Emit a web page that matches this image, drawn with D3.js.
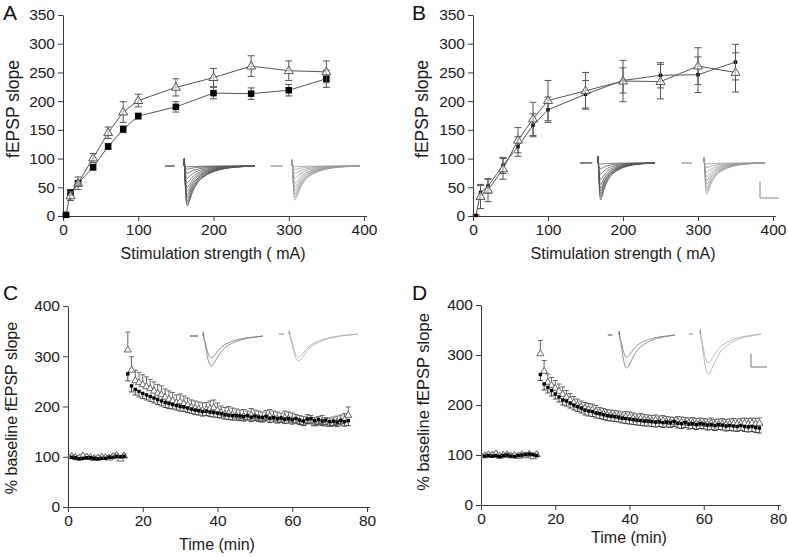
<!DOCTYPE html>
<html><head><meta charset="utf-8">
<script src="https://cdn.jsdelivr.net/npm/d3@7"></script>
<style>
html,body{margin:0;padding:0;background:#fff;}
svg{display:block;font-family:"Liberation Sans",Arial,sans-serif;}
</style></head>
<body>
<svg id="chart" width="788" height="557"></svg>
<script>
// ---------- Panel A/B data (input–output) ----------
const ioTicksY = [0,50,100,150,200,250,300,350];
const ioTicksX = [0,100,200,300,400];
const aTriX = [10,20,40,60,80,100,150,200,250,300,350];
const aTriY = [35,57,101,145,181,201,224,241,261,253,251];
const aTriE = [8,11,8,10,18,11,15,16,18,17,19];
const aSqX  = [4,10,20,40,60,80,100,150,200,250,300,350];
const aSqY  = [2,41,57,85,121,151,174,190,214,213,219,239];
const aSqE  = [2,4,5,5,5,6,5,9,10,10,10,15];

const bTriX = [10,20,40,60,80,100,150,200,250,300,350];
const bTriY = [34,45,82,132,169,201,218,235,234,261,250];
const bTriE = [21,20,18,22,29,35,32,36,30,32,34];
const bSqX  = [4,10,20,40,60,80,100,150,200,250,300,350];
const bSqY  = [1,41,52,88,121,158,185,212,236,245,246,268];
const bSqE  = [1,12,12,14,17,20,22,24,22,22,31,31];

// ---------- Panel C/D data (time course) ----------
const ltpTicksY = [0,100,200,300,400];
const ltpTicksX = [0,20,40,60,80];
const timeMin = [1,2,3,4,5,6,7,8,9,10,11,12,13,14,15,
 16,17,18,19,20,21,22,23,24,25,26,27,28,29,30,31,32,33,34,35,36,37,38,39,40,
 41,42,43,44,45,46,47,48,49,50,51,52,53,54,55,56,57,58,59,60,61,62,63,64,65,
 66,67,68,69,70,71,72,73,74,75];
const cTriY = [101,99,98,102,100,99,97,98,100,99,98,101,103,96,102,
 313,273,252,248,244,240,236,231,227,224,219,215,212,208,210,206,203,199,197,195,193,194,196,198,193,
 188,185,187,184,182,180,181,178,183,180,178,176,179,181,178,176,174,178,176,174,172,170,168,172,170,
 166,168,170,166,165,167,169,171,174,183];
const cTriE = [3,3,2,3,3,2,3,3,2,3,3,2,3,3,4,
 35,26,20,20,19,19,18,18,17,17,16,16,16,15,15,15,14,14,14,14,14,14,15,15,14,
 13,13,13,13,13,13,13,13,13,13,13,13,13,13,13,13,13,13,13,13,12,12,12,12,12,
 12,12,12,12,12,12,12,12,12,16];
const cSqY = [99,98,96,97,98,98,97,96,97,97,99,99,101,100,101,
 265,241,234,230,226,223,220,217,214,211,208,206,204,202,200,199,197,195,193,192,190,191,189,188,187,
 186,184,183,182,182,181,180,182,179,181,179,178,180,177,178,176,177,175,176,174,176,173,171,175,176,
 172,174,171,173,170,171,169,172,170,172];
const cSqE = [2,2,2,2,2,2,2,2,2,2,2,2,2,2,2,
 14,12,11,11,10,10,10,10,10,10,10,10,9,9,9,9,9,9,9,9,9,9,9,9,9,
 9,9,9,9,9,9,9,9,9,9,9,9,9,9,9,9,9,9,9,9,9,9,9,9,9,
 9,9,9,9,9,9,9,9,9,10];
const dTriY = [99,101,100,103,98,100,101,99,100,98,101,99,102,97,101,
 303,268,246,240,234,228,222,216,210,205,200,197,194,192,191,188,185,183,181,180,179,178,176,177,176,
 174,172,173,171,170,169,170,168,169,167,166,165,167,166,165,164,165,163,164,163,162,164,161,162,163,
 161,162,163,162,163,164,163,164,163,164];
const dTriE = [3,3,3,3,3,3,3,3,3,3,3,3,3,3,3,
 26,21,16,15,15,14,14,13,13,12,12,11,11,11,11,11,10,10,10,10,10,10,10,10,10,
 10,10,10,10,10,10,10,10,10,10,10,10,10,10,10,10,10,10,10,10,10,10,10,10,10,
 10,10,10,10,10,10,10,10,10,10];
const dSqY = [98,99,98,99,97,99,100,98,97,99,100,101,102,101,99,
 261,242,235,229,222,216,210,208,204,200,197,194,190,188,187,184,183,181,179,178,177,176,174,173,172,
 171,170,169,168,168,167,166,167,165,166,165,167,164,163,165,162,163,161,163,162,160,161,159,161,160,
 158,159,158,157,159,157,156,157,155,154];
const dSqE = [2,2,2,2,2,2,2,2,2,2,2,2,2,2,2,
 12,12,11,11,10,10,10,10,10,10,10,10,10,10,10,10,10,10,10,10,10,10,10,10,10,
 10,10,10,10,10,10,10,10,10,10,10,10,10,10,10,10,10,10,10,10,10,10,10,10,10,
 10,10,10,10,10,10,10,10,10,10];

// ---------- Inset trace data (normalised waveforms) ----------
const ioShapeT = [0,0.15,0.3,0.6,1,1.5,2,3,4,5,6,8,10,13,16,20,25,30];
const ioShapeV = [0,0.18,-0.2,-0.55,-0.92,-1,-0.93,-0.75,-0.6,-0.49,-0.4,-0.29,-0.21,-0.13,-0.08,-0.04,-0.015,0];
const ltpShapeT = [0,0.2,0.4,1,2,3,4,5,6,8,10,13,16,20,25,30];
const ltpShapeV = [0,0.12,-0.05,-0.25,-0.62,-0.9,-1,-0.96,-0.85,-0.62,-0.45,-0.3,-0.2,-0.11,-0.05,0];
const a1Amps = [0.02,0.08,0.18,0.3,0.42,0.53,0.63,0.72,0.8,0.88,0.95,1.0];
const a2Amps = [0.02,0.1,0.22,0.36,0.5,0.62,0.72,0.82,0.92,1.0];
const b1Amps = [0.03,0.15,0.3,0.45,0.58,0.68,0.76,0.84,0.92,1.0];
const b2Amps = [0.03,0.15,0.3,0.44,0.56,0.68,0.8,0.9,1.0];
const c1Amps = [0.73,1.0];
const c2Amps = [0.85,1.0];
const d1Amps = [0.67,1.0];
const d2Amps = [0.72,1.0];

// ---------- drawing ----------
const svg = d3.select("#chart");
const AX = "#3a3a3a";
const FONT_TICK = "15.5px";

function panel(cfg){
  const g = svg.append("g");
  const x = d3.scaleLinear().domain(cfg.xDom).range(cfg.xRange);
  const y = d3.scaleLinear().domain(cfg.yDom).range(cfg.yRange);
  const xa = g.append("g").attr("transform",`translate(0,${cfg.yRange[0]})`)
    .call(d3.axisBottom(x).tickValues(cfg.xTicks).tickSize(5).tickPadding(3).tickSizeOuter(0));
  const ya = g.append("g").attr("transform",`translate(${cfg.xRange[0]},0)`)
    .call(d3.axisLeft(y).tickValues(cfg.yTicks).tickSize(5).tickPadding(3).tickSizeOuter(0));
  [xa,ya].forEach(a=>{
    a.selectAll("path,line").attr("stroke",AX).attr("stroke-width",1);
    a.selectAll("text").attr("fill","#1a1a1a").style("font-size",FONT_TICK);
  });
  xa.select(".domain").attr("d",`M${cfg.xRange[0]},0.5H${cfg.xRange[1]+3}`);
  g.append("text").attr("x",cfg.xTitlePos[0]).attr("y",cfg.xTitlePos[1])
    .attr("text-anchor","middle").style("font-size","16px").attr("fill","#1a1a1a").text(cfg.xTitle);
  g.append("text").attr("transform",`translate(${cfg.yTitlePos[0]},${cfg.yTitlePos[1]}) rotate(-90)`)
    .attr("text-anchor","middle").attr("dy","0.35em").style("font-size",cfg.yTitleSize).attr("fill","#1a1a1a").text(cfg.yTitle);
  g.append("text").attr("x",cfg.letterPos[0]).attr("y",cfg.letterPos[1])
    .style("font-size","21px").attr("fill","#111").text(cfg.letter);
  return {g,x,y};
}

function triPath(w,h){
  return `M0,${-h*0.62}L${w/2},${h*0.38}L${-w/2},${h*0.38}Z`;
}

function errBars(g,x,y,xs,ys,es,dir,cap,color){
  xs.forEach((xv,i)=>{
    const yv=ys[i], e=es[i];
    const ends=[];
    if(dir!=="down") ends.push(yv+e);
    if(dir!=="up") ends.push(yv-e);
    ends.forEach(ev=>{
      g.append("line").attr("x1",x(xv)).attr("x2",x(xv)).attr("y1",y(yv)).attr("y2",y(ev))
        .attr("stroke",color).attr("stroke-width",1);
      g.append("line").attr("x1",x(xv)-cap/2).attr("x2",x(xv)+cap/2).attr("y1",y(ev)).attr("y2",y(ev))
        .attr("stroke",color).attr("stroke-width",1);
    });
  });
}

function ioSeries(p, xs, ys, es, kind, sz){
  const line = d3.line().x((d,i)=>p.x(xs[i])).y(d=>p.y(d));
  p.g.append("path").attr("d",line(ys)).attr("fill","none").attr("stroke","#555").attr("stroke-width",1);
  errBars(p.g,p.x,p.y,xs,ys,es,"both",7,"#555");
  if(kind==="tri"){
    p.g.selectAll(null).data(ys).enter().append("path")
      .attr("d",triPath(sz,sz*0.85))
      .attr("transform",(d,i)=>`translate(${p.x(xs[i])},${p.y(d)})`)
      .attr("fill","#fff").attr("fill-opacity",0.6).attr("stroke","#555").attr("stroke-width",1);
  } else {
    p.g.selectAll(null).data(ys).enter().append("rect")
      .attr("x",(d,i)=>p.x(xs[i])-sz/2).attr("y",d=>p.y(d)-sz/2)
      .attr("width",sz).attr("height",sz).attr("fill","#000");
  }
}

function ltpSeries(p, ys, es, kind){
  if(kind==="tri"){
    errBars(p.g,p.x,p.y,timeMin,ys,es,"up",5,"#666");
    p.g.selectAll(null).data(ys).enter().append("path")
      .attr("d",triPath(7,6))
      .attr("transform",(d,i)=>`translate(${p.x(timeMin[i])},${p.y(d)})`)
      .attr("fill","#fff").attr("stroke","#555").attr("stroke-width",0.9);
  } else {
    errBars(p.g,p.x,p.y,timeMin,ys,es,"down",5,"#444");
    p.g.selectAll(null).data(ys).enter().append("rect")
      .attr("x",(d,i)=>p.x(timeMin[i])-1.7).attr("y",d=>p.y(d)-1.7)
      .attr("width",3.4).attr("height",3.4).attr("fill","#000");
  }
}

function inset(shT, shV, amps, o){
  const tx = d3.scaleLinear().domain([0,30]).range([o.x0, o.x0+o.span]);
  const ty = d3.scaleLinear().domain([0,-1]).range([o.base, o.base+o.amp]);
  const g = svg.append("g");
  g.append("line").attr("x1",tx(o.dash[0])).attr("x2",tx(o.dash[1]))
    .attr("y1",o.base).attr("y2",o.base).attr("stroke",o.color).attr("stroke-width",1.4);
  const ln = d3.line().x(d=>tx(d[0])).y(d=>ty(d[1])).curve(d3.curveMonotoneX);
  amps.forEach(a=>{
    const pts = shT.map((t,i)=>[t, i<2 ? shV[i] : shV[i]*a]);
    g.append("path").attr("d",ln(pts)).attr("fill","none")
      .attr("stroke",o.color).attr("stroke-width",0.8);
  });
}

function scaleBar(x0,y0,h,w,color){
  const g = svg.append("g").attr("stroke",color).attr("stroke-width",1).attr("fill","none");
  g.append("path").attr("d",`M${x0},${y0}V${y0+h}H${x0+w}`);
}

// Panel A
const pA = panel({xDom:[0,400],xRange:[63,364],yDom:[0,350],yRange:[216,15],
  xTicks:ioTicksX,yTicks:ioTicksY,xTitle:"Stimulation strength ( mA)",xTitlePos:[213,259],
  yTitle:"fEPSP slope",yTitlePos:[13,109],yTitleSize:"17.5px",letter:"A",letterPos:[3,20]});
inset(ioShapeT, ioShapeV, a1Amps, {x0:184,span:71,base:166,amp:40,dash:[-8,-4],color:"#555"});
inset(ioShapeT, ioShapeV, a2Amps, {x0:292,span:68,base:166,amp:34,dash:[-9.5,-4],color:"#999"});
ioSeries(pA, aSqX, aSqY, aSqE, "sq", 6.5);
ioSeries(pA, aTriX, aTriY, aTriE, "tri", 9);

// Panel B
const pB = panel({xDom:[0,400],xRange:[473,773],yDom:[0,350],yRange:[216,15],
  xTicks:ioTicksX,yTicks:ioTicksY,xTitle:"Stimulation strength ( mA)",xTitlePos:[623,259],
  yTitle:"fEPSP slope",yTitlePos:[422,109],yTitleSize:"17.5px",letter:"B",letterPos:[412,20]});
inset(ioShapeT, ioShapeV, b1Amps, {x0:598,span:57,base:163,amp:37,dash:[-9.5,-3],color:"#555"});
inset(ioShapeT, ioShapeV, b2Amps, {x0:704,span:61,base:163,amp:31,dash:[-11,-6],color:"#999"});
scaleBar(760,181,17,19,"#888");
ioSeries(pB, bSqX, bSqY, bSqE, "sq", 3.5);
ioSeries(pB, bTriX, bTriY, bTriE, "tri", 9);

// Panel C
const pC = panel({xDom:[0,80],xRange:[68,367],yDom:[0,400],yRange:[507,306],
  xTicks:ltpTicksX,yTicks:ltpTicksY,xTitle:"Time (min)",xTitlePos:[217,550],
  yTitle:"% baseline fEPSP slope",yTitlePos:[11,408],yTitleSize:"16px",letter:"C",letterPos:[3,300]});
inset(ltpShapeT, ltpShapeV, c1Amps, {x0:203,span:60,base:336,amp:30,dash:[-6.5,-2.5],color:"#777"});
inset(ltpShapeT, ltpShapeV, c2Amps, {x0:289,span:69,base:334,amp:27,dash:[-4.5,-2],color:"#aaa"});
ltpSeries(pC, cTriY, cTriE, "tri");
ltpSeries(pC, cSqY, cSqE, "sq");

// Panel D
const pD = panel({xDom:[0,80],xRange:[481,778],yDom:[0,400],yRange:[505,305],
  xTicks:ltpTicksX,yTicks:ltpTicksY,xTitle:"Time (min)",xTitlePos:[629,543],
  yTitle:"% baseline fEPSP slope",yTitlePos:[423,402],yTitleSize:"16.5px",letter:"D",letterPos:[412,300]});
inset(ltpShapeT, ltpShapeV, d1Amps, {x0:619,span:56,base:335,amp:33,dash:[-6,-3.5],color:"#777"});
inset(ltpShapeT, ltpShapeV, d2Amps, {x0:700,span:61,base:334,amp:40,dash:[-5.5,-3.5],color:"#aaa"});
scaleBar(751,354,13,16,"#777");
ltpSeries(pD, dTriY, dTriE, "tri");
ltpSeries(pD, dSqY, dSqE, "sq");
</script>
</body></html>
